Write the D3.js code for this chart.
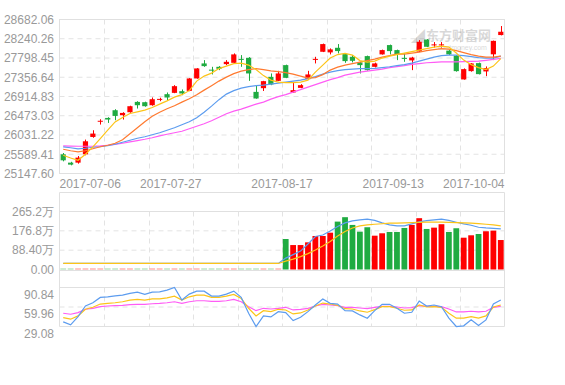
<!DOCTYPE html>
<html>
<head>
<meta charset="utf-8">
<script src="https://cdn.jsdelivr.net/npm/d3@7"></script>
<style>
body { margin: 0; background: #fff; }
svg { display: block; font-family: Arial, "Liberation Sans", sans-serif; }
</style>
</head>
<body>
<svg width="565" height="385"></svg>
<script>
// daily candles (index points)
var open  = [25588,25397,25397,25588,25986,26335,26423,26600,26485,26554,26791,26784,26715,26837,26968,26998,27037,27044,27329,27674,27531,27596,27658,27688,27778,27803,27021,27106,27366,27274,27635,27007,27113,27313,27755,27941,27927,28033,27888,27826,27697,27842,27596,27881,28095,27980,27801,27743,27946,28222,28088,28088,27968,27853,27306,27497,27681,27490,27883,28325];
var close = [25450,25351,25512,25887,26064,26358,26386,26469,26538,26692,26715,26692,26853,26860,26892,27152,26984,27329,27559,27612,27508,27550,27711,27881,27755,27444,26869,27267,27191,27444,27343,27060,27175,27421,27778,28118,27996,27957,27727,27734,27635,27520,27674,27980,27957,27888,27778,27808,28171,28056,28111,28111,27881,27497,27543,27674,27428,27566,28192,28401];
var high  = [25618,25416,25549,25926,26140,26393,26439,26623,26554,26703,26807,26796,26892,26887,27007,27175,27076,27336,27566,27750,27596,27612,27750,27904,27865,27819,27175,27274,27444,27504,27646,27251,27198,27504,27826,28129,28019,28118,27899,27865,27711,27853,27692,27991,28106,27991,27904,27826,28210,28233,28164,28164,27980,27865,27559,27681,27692,27605,28198,28532];
var low   = [25427,25335,25374,25565,25968,26271,26308,26370,26386,26542,26639,26680,26703,26807,26830,26991,26945,27037,27324,27596,27421,27520,27635,27674,27596,27274,26864,27042,27175,27267,27336,27002,27106,27306,27674,27934,27881,27904,27688,27697,27444,27508,27582,27877,27881,27750,27711,27520,27934,28049,28037,28037,27865,27485,27302,27485,27421,27382,27750,28318];

var ma5  = [25566,25504,25451,25589,25757,25950,26141,26332,26433,26525,26562,26601,26663,26739,26815,26900,26957,27049,27268,27383,27452,27555,27613,27670,27682,27636,27532,27394,27291,27245,27233,27233,27245,27291,27475,27636,27797,27877,27905,27866,27739,27705,27728,27797,27843,27877,27912,27946,27981,28015,28050,28073,28050,27912,27751,27647,27578,27532,27613,27785];
var ma10 = [25704,25669,25646,25669,25715,25761,25796,25842,25922,26060,26198,26336,26463,26555,26635,26704,26785,26865,26957,27061,27164,27268,27360,27440,27498,27532,27555,27532,27505,27486,27463,27429,27383,27337,27348,27417,27521,27590,27636,27670,27705,27739,27774,27820,27854,27889,27889,27912,27935,27969,27992,28015,28004,27969,27923,27877,27843,27820,27820,27843];
var ma20 = [25757,25738,25715,25727,25750,25761,25784,25819,25865,25911,25957,25991,26037,26083,26141,26198,26267,26336,26428,26555,26693,26842,26969,27049,27107,27141,27164,27176,27199,27222,27245,27268,27291,27325,27371,27429,27475,27509,27532,27544,27555,27555,27560,27578,27597,27624,27647,27682,27728,27774,27820,27854,27866,27866,27854,27831,27808,27797,27797,27843];
var ma30 = [25780,25777,25773,25773,25773,25780,25796,25814,25842,25872,25904,25934,25968,26010,26049,26083,26118,26175,26233,26290,26359,26440,26520,26578,26624,26681,26739,26785,26854,26911,26957,27015,27072,27130,27187,27245,27302,27348,27406,27440,27475,27498,27521,27544,27578,27601,27624,27652,27670,27689,27700,27709,27711,27711,27716,27721,27728,27746,27767,27790];

// volume, in 万
var volume = [0,0,0,0,0,0,0,0,0,0,0,0,0,0,0,0,0,0,0,0,0,0,0,0,0,0,0,0,0,0,
  139.4,111.8,111.8,124.2,153.2,153.2,168.4,219.0,239.2,203.8,173.0,193.2,154.6,165.6,171.6,171.6,190.0,203.8,234.6,185.4,191.4,207.0,171.6,188.6,145.4,156.4,162.4,174.8,177.6,134.8];
var volMa5 = [27.6,27.6,27.6,27.6,27.6,27.6,27.6,27.6,27.6,27.6,27.6,27.6,27.6,27.6,27.6,27.6,27.6,27.6,27.6,27.6,27.6,27.6,27.6,27.6,27.6,27.6,27.6,27.6,27.6,27.6,
  52.0,68.1,84.2,116.4,150.9,157.8,176.2,196.9,213.0,222.2,226.8,230.0,224.5,213.0,203.8,199.2,199.2,208.4,217.6,223.6,226.8,230.0,224.5,216.2,208.4,202.4,193.2,190.0,187.7,185.4];
var volMa10 = [27.6,27.6,27.6,27.6,27.6,27.6,27.6,27.6,27.6,27.6,27.6,27.6,27.6,27.6,27.6,27.6,27.6,27.6,27.6,27.6,27.6,27.6,27.6,27.6,27.6,27.6,27.6,27.6,27.6,27.6,
  38.2,47.4,58.9,72.7,88.8,107.2,127.9,153.2,173.9,190.0,199.2,203.8,207.0,209.3,211.6,212.1,213.0,214.4,215.3,216.2,216.2,216.2,215.3,214.4,213.0,211.6,209.8,207.0,203.8,199.2];

// RSI 6 / 12 / 24
var rsi6  = [36.45,31.75,44.76,61.53,66.70,75.16,76.11,77.67,78.77,81.43,83.47,79.87,83.47,83.94,86.61,90.84,70.93,80.34,85.04,85.04,77.20,77.20,80.34,85.04,75.16,50.08,29.08,45.85,44.28,52.59,51.03,38.49,43.81,52.59,63.09,72.50,65.76,64.66,54.16,53.69,47.42,42.25,54.16,64.19,64.19,57.92,50.08,51.65,69.36,61.53,63.09,60.43,42.25,29.08,30.18,39.58,30.65,39.58,64.66,70.93];
var rsi12 = [43.19,40.68,45.85,56.35,59.49,64.66,65.76,66.70,68.27,70.93,72.03,70.93,72.97,72.97,74.54,77.20,70.93,76.11,78.77,78.77,75.16,75.16,77.20,79.87,73.60,57.92,45.85,54.16,52.59,56.35,55.26,48.99,50.55,55.26,61.53,66.23,64.66,62.62,57.30,56.82,53.69,51.65,55.73,60.43,60.43,57.92,54.79,55.26,63.09,59.96,60.43,59.49,50.08,42.25,42.25,44.76,42.25,45.85,59.96,63.09];
var rsi24 = [50.08,48.52,51.03,56.35,57.92,60.43,61.53,62.00,62.62,63.57,64.19,64.19,65.13,65.76,66.70,68.27,65.76,68.27,69.84,69.84,68.89,68.89,69.84,72.03,68.27,60.43,54.16,57.92,56.82,57.92,59.49,55.26,56.35,57.92,61.53,64.19,63.09,62.00,59.49,59.49,58.39,57.30,59.49,61.06,61.06,59.96,58.39,58.86,62.00,61.06,61.06,60.43,56.82,52.12,52.12,53.22,52.12,53.22,59.49,61.06];

var priceTicks = [28682.06, 28240.26, 27798.45, 27356.64, 26914.83, 26473.03, 26031.22, 25589.41, 25147.60];
var volTicks = [265.2, 176.8, 88.40, 0];
var volTickLabels = ["265.2万", "176.8万", "88.40万", "0.00"];
var rsiTicks = [90.84, 59.96, 29.08];
var xLabels = ["2017-07-06", "2017-07-27", "2017-08-17", "2017-09-13", "2017-10-04"];

var RED = "#ff0000", GREEN = "#1fab41";
var GRID = "#e3e3e3", BORDER = "#e0e0e0", TXT = "#999";

var svg = d3.select("svg");
var left = 59.5, right = 504.5;
var n = open.length;

var x = d3.scaleBand().domain(d3.range(n)).range([left, right]).paddingInner(0.3).paddingOuter(0.15);
var cx = function (i) { return x(i) + x.bandwidth() / 2; };
var bw = x.bandwidth();

var yP = d3.scaleLinear().domain([priceTicks[8], priceTicks[0]]).range([173.5, 19.5]);
var yV = d3.scaleLinear().domain([0, volTicks[0]]).range([269.5, 211.5]);
var yR = d3.scaleLinear().domain([rsiTicks[2], rsiTicks[0]]).range([326.5, 287.5]);

function color(i) { return close[i] >= open[i] ? RED : GREEN; }

// vertical grid positions (10 divisions)
var vgrid = d3.range(1, 10).map(function (k) { return left + (right - left) * k / 10; });

function hline(y, x1, x2, dash, col) {
    svg.append("line").attr("x1", x1).attr("x2", x2).attr("y1", y).attr("y2", y)
        .attr("stroke", col || GRID).attr("stroke-dasharray", dash ? "5,4" : null);
}
function vlines(y1, y2) {
    vgrid.forEach(function (gx) {
        svg.append("line").attr("x1", Math.round(gx) + 0.5).attr("x2", Math.round(gx) + 0.5)
            .attr("y1", y1).attr("y2", y2).attr("stroke", GRID).attr("stroke-dasharray", "5,4");
    });
}

// ---- main panel frame and grid
priceTicks.forEach(function (t, i) {
    var yy = yP(t);
    if (i > 0 && i < priceTicks.length - 1) hline(yy, left, right, true);
    svg.append("text").attr("x", 54).attr("y", yy + 4.3).attr("text-anchor", "end")
        .attr("font-size", 12).attr("fill", TXT).text(t.toFixed(2));
});
vlines(19.5, 173.5);
svg.append("rect").attr("x", left).attr("y", 19.5).attr("width", right - left).attr("height", 154)
    .attr("fill", "none").attr("stroke", BORDER);

// x labels at quarter positions
var xl = d3.scaleLinear().domain([0, xLabels.length - 1]).range([left, right]);
xLabels.forEach(function (s, k) {
    svg.append("text").attr("x", xl(k)).attr("y", 187.5)
        .attr("text-anchor", k === 0 ? "start" : (k === xLabels.length - 1 ? "end" : "middle"))
        .attr("font-size", 12).attr("fill", TXT).text(s);
});

// watermark
var wm = svg.append("g").attr("opacity", 0.28).attr("fill", "#777");
wm.append("text").attr("x", 411).attr("y", 41).attr("font-size", 14).attr("font-weight", "bold")
    .attr("font-family", "'Noto Sans CJK SC', sans-serif").text("◢");
wm.append("text").attr("x", 426).attr("y", 40).attr("font-size", 13).attr("font-weight", "bold")
    .attr("font-family", "'Noto Sans CJK SC', sans-serif").text("东方财富网");
wm.append("text").attr("x", 438).attr("y", 50).attr("font-size", 7).text("eastmoney.com");

// candles
var cg = svg.append("g");
d3.range(n).forEach(function (i) {
    var c = color(i);
    var xm = Math.round(cx(i)) + 0.5;
    cg.append("line").attr("x1", xm).attr("x2", xm).attr("y1", yP(high[i])).attr("y2", yP(low[i]))
        .attr("stroke", c);
    var y1 = yP(Math.max(open[i], close[i])), y2 = yP(Math.min(open[i], close[i]));
    cg.append("rect").attr("x", cx(i) - bw / 2).attr("y", y1).attr("width", bw)
        .attr("height", Math.max(1, y2 - y1)).attr("fill", c);
});

function drawLine(data, ys, col) {
    svg.append("path").datum(data)
        .attr("d", d3.line().x(function (d, i) { return cx(i); }).y(function (d) { return ys(d); }))
        .attr("fill", "none").attr("stroke", col).attr("stroke-width", 1.2);
}
drawLine(ma30, yP, "#ff5cf5");
drawLine(ma20, yP, "#5c9cef");
drawLine(ma10, yP, "#ff7a30");
drawLine(ma5, yP, "#fcc419");

// ---- volume panel
hline(192.5, left, right, false, BORDER);
hline(yV(volTicks[0]), left, right, false, BORDER);
volTicks.forEach(function (t, i) {
    var yy = yV(t);
    if (i > 0 && i < volTicks.length - 1) hline(yy, left, right, true);
    svg.append("text").attr("x", 54).attr("y", yy + 4.3).attr("text-anchor", "end")
        .attr("font-size", 12).attr("fill", TXT).text(volTickLabels[i]);
});
vlines(yV(volTicks[0]), 269.5);
hline(270.5, left, right, false, BORDER);

d3.range(n).forEach(function (i) {
    var h = yV(0) - yV(volume[i]);
    svg.append("rect").attr("x", cx(i) - bw / 2 - 0.3).attr("width", bw + 0.6)
        .attr("y", volume[i] > 0 ? yV(volume[i]) : yV(0) - 1).attr("height", Math.max(1, h))
        .attr("fill", color(i)).attr("opacity", volume[i] > 0 ? 1 : 0.45);
});
drawLine(volMa5, yV, "#5c9cef");
drawLine(volMa10, yV, "#fcc419");

// ---- indicator panel
hline(287.5, left, right, false, BORDER);
hline(yR(rsiTicks[1]), left, right, true);
vlines(287.5, 326.5);
hline(326.5, left, right, false, BORDER);
rsiTicks.forEach(function (t) {
    svg.append("text").attr("x", 54).attr("y", yR(t) + 11).attr("text-anchor", "end")
        .attr("font-size", 12).attr("fill", TXT).text(t.toFixed(2));
});
// outer sides of lower panels
[left, right].forEach(function (xx) {
    svg.append("line").attr("x1", xx).attr("x2", xx).attr("y1", 192.5).attr("y2", 326.5).attr("stroke", BORDER);
});

drawLine(rsi24, yR, "#ff5cf5");
drawLine(rsi12, yR, "#fcc419");
drawLine(rsi6, yR, "#5c9cef");
</script>
</body>
</html>
